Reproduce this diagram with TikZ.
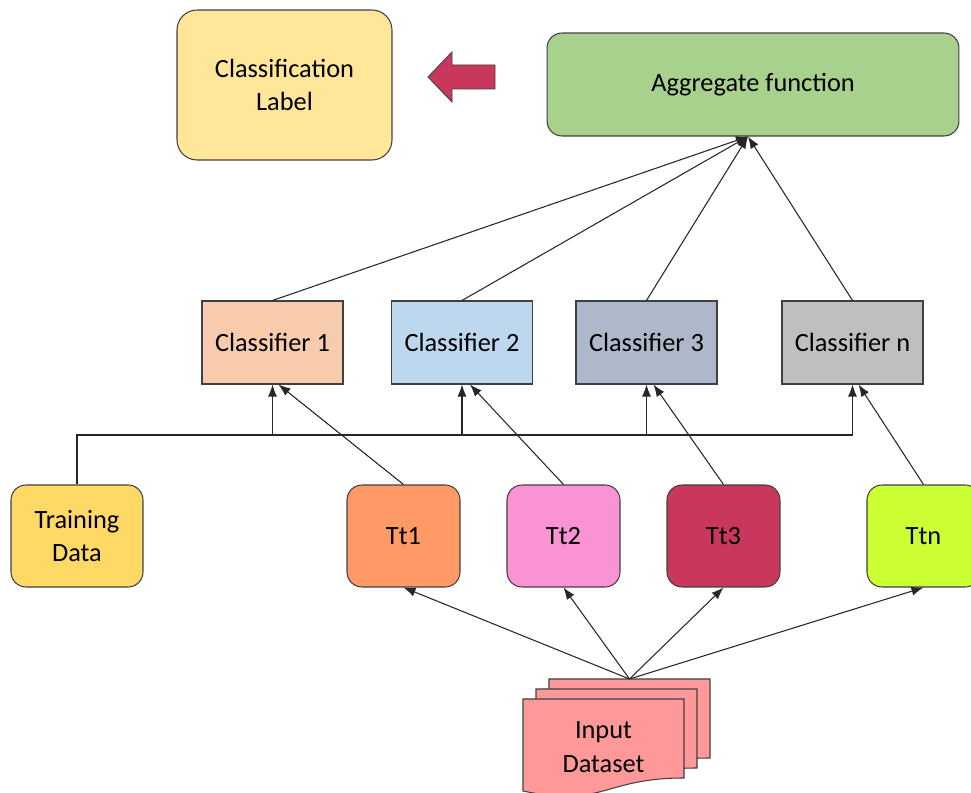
\documentclass[tikz,border=0pt]{standalone}
\usepackage{fontspec}
\setmainfont{Carlito}
\usetikzlibrary{arrows.meta}

\definecolor{labelcol}{HTML}{FFE699}
\definecolor{aggcol}{HTML}{A9D18E}
\definecolor{clsA}{HTML}{F8CBAD}
\definecolor{clsB}{HTML}{BDD7EE}
\definecolor{clsC}{HTML}{ADB9CA}
\definecolor{clsN}{HTML}{BFBFBF}
\definecolor{traincol}{HTML}{FFD966}
\definecolor{ttA}{HTML}{FF9A66}
\definecolor{ttB}{HTML}{F993D3}
\definecolor{ttC}{HTML}{C9375C}
\definecolor{ttN}{HTML}{CCFF33}
\definecolor{datacol}{HTML}{FF9999}
\definecolor{edgecol}{HTML}{404040}
\definecolor{linecol}{HTML}{262626}

\tikzset{
    box/.style={draw=edgecol, line width=0.6pt, inner sep=0pt, align=center,
        font=\fontsize{15}{19}\selectfont},
    clsbox/.style={box, minimum width=2.82cm, minimum height=1.66cm},
    ttbox/.style={box, rounded corners=0.3cm, minimum width=2.26cm, minimum height=2.04cm},
    conn/.style={draw=linecol, line width=0.6pt, -{Latex[length=0.24cm,width=0.18cm]}},
    sheet/.style={draw=edgecol, line width=0.6pt, fill=datacol}
}

\begin{document}
\begin{tikzpicture}[x=0.02cm, y=-0.02cm]

    % パラメータの定義
    \pgfmathsetmacro{\clsY}{342.5}
    \pgfmathsetmacro{\ttY}{536}
    \pgfmathsetmacro{\busY}{435}

    \useasboundingbox (0,0) rectangle (971,793);
    \clip (0,0) rectangle (971,793);

    % 上段
    \node[box, fill=labelcol, rounded corners=0.4cm, minimum width=4.3cm, minimum height=3cm]
        (label) at (284.5,85) {Classification\\Label};
    \node[box, fill=aggcol, rounded corners=0.3cm, minimum width=8.24cm, minimum height=2.06cm]
        (agg) at (753,84.5) {\raisebox{-2pt}{Aggregate function}};

    % 矢印(ブロック)
    \draw[draw=edgecol, line width=0.5pt, fill=ttC]
        (428,77) -- (452,52) -- (452,65) -- (495,65) -- (495,89) -- (452,89) -- (452,102) -- cycle;

    % 分類器
    \node[clsbox, fill=clsA] (c1) at (272.5,\clsY) {Classifier 1};
    \node[clsbox, fill=clsB] (c2) at (462,\clsY) {Classifier 2};
    \node[clsbox, fill=clsC] (c3) at (646.5,\clsY) {Classifier 3};
    \node[clsbox, fill=clsN] (cn) at (852.5,\clsY) {Classifier n};

    % 下段
    \node[ttbox, fill=traincol, minimum width=2.64cm] (td) at (77,\ttY) {Training\\Data};
    \node[ttbox, fill=ttA] (tt1) at (403.5,\ttY) {Tt1};
    \node[ttbox, fill=ttB] (tt2) at (563.5,\ttY) {Tt2};
    \node[ttbox, fill=ttC] (tt3) at (723.5,\ttY) {Tt3};
    \node[ttbox, fill=ttN] (ttn) at (923.5,\ttY) {Ttn};

    % 入力データ
    \foreach \dx/\dy in {26/-20, 13/-10, 0/0} {
        \pgfmathsetmacro{\shL}{523+\dx}
        \pgfmathsetmacro{\shT}{699+\dy}
        \draw[sheet] (\shL,\shT) -- (\shL+161,\shT) -- (\shL+161,\shT+79)
            .. controls (\shL+80.5,\shT+79) and (\shL+80.5,\shT+109) .. (\shL,\shT+92) -- cycle;
    }
    \node[box, draw=none] (dataset) at (603.5,747) {Input\\Dataset};
    \coordinate (src) at (629.5,679);

    % 線分の描画
    \foreach \t in {tt1,tt2,tt3,ttn}
        \draw[conn] (src) -- (\t.south);

    \coordinate (bus) at (0,\busY);
    \draw[draw=linecol, line width=0.6pt] (td.north) |- (cn.south |- bus);
    \foreach \c in {c1,c2,c3,cn}
        \draw[conn] (\c.south |- bus) -- (\c.south);

    \draw[conn] (tt1.north) -- ([xshift=0.12cm]c1.south);
    \draw[conn] (tt2.north) -- ([xshift=0.16cm]c2.south);
    \draw[conn] (tt3.north) -- ([xshift=0.14cm]c3.south);
    \draw[conn] (ttn.north) -- ([xshift=0.12cm]cn.south);

    \foreach \c in {c1,c2,c3,cn}
        \draw[conn] (\c.north) -- ([xshift=-0.1cm]agg.south);

\end{tikzpicture}
\end{document}
